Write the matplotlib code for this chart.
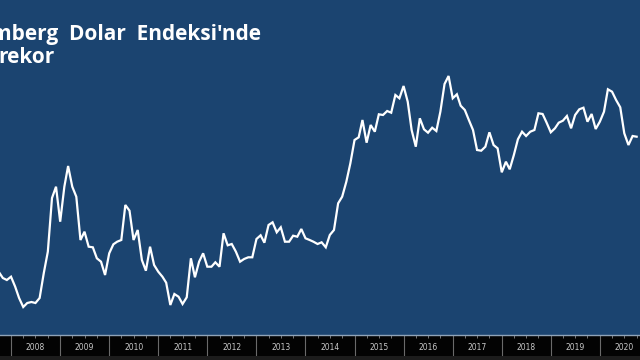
import matplotlib
matplotlib.use('Agg')
import matplotlib.pyplot as plt
import matplotlib.dates as mdates
import matplotlib.transforms as mtransforms
from matplotlib.patches import Rectangle
from datetime import datetime
import pandas as pd

# Bloomberg Dollar Spot Index, monthly, Oct 2007 - Oct 2020
start_month = '2007-10-01'
index_values = [
    1068.3, 1062, 1060, 1063.3, 1053.3, 1042, 1033, 1037, 1038, 1037,
    1042, 1067, 1088.3, 1142, 1153.3, 1118.3, 1153.3, 1174, 1153.3, 1143.3,
    1100, 1108.3, 1093.3, 1092.7, 1081.7, 1078.3, 1065, 1086.7, 1095.7, 1098.3,
    1100, 1135, 1129.3, 1100, 1110, 1080, 1069.3, 1093.3, 1075, 1068.3,
    1063.3, 1057.3, 1035, 1046, 1043.3, 1036, 1042.7, 1081.7, 1062.7, 1078.3,
    1086.7, 1073.3, 1073.3, 1077.7, 1073.3, 1106.7, 1094.7, 1096, 1088.3, 1078.3,
    1081, 1082.7, 1082.7, 1101, 1104.7, 1097.3, 1115, 1117.7, 1107.7, 1112.7,
    1098.3, 1098.3, 1104.3, 1103.3, 1111, 1101.7, 1100, 1098.3, 1096, 1097.7,
    1092.7, 1105, 1110, 1136.7, 1143.3, 1158.3, 1176.7, 1200, 1202.7, 1220,
    1197.3, 1215, 1208.3, 1225.7, 1225, 1229, 1227.3, 1245, 1241.7, 1254,
    1238.3, 1210, 1193.3, 1221.7, 1210.7, 1207.3, 1212.3, 1209, 1228.3, 1256,
    1264, 1241.7, 1245.7, 1234.3, 1230, 1220, 1210, 1190, 1189.3, 1193.3,
    1207.7, 1195, 1191.7, 1167.7, 1178.3, 1170.7, 1185, 1200.7, 1208.3, 1204,
    1208.3, 1210, 1226.7, 1226, 1217.3, 1207.7, 1211.7, 1217.3, 1219.3, 1224,
    1211.7, 1225, 1230.7, 1232.3, 1218.3, 1226, 1211, 1218.3, 1228.3, 1250.7,
    1248.3, 1240, 1232.7, 1206.7, 1195, 1204, 1203.3,
]
years = list(range(2008, 2021))
title_line1 = "Bloomberg  Dolar  Endeksi'nde"
title_line2 = "rekor"

dates = pd.date_range(start_month, periods=len(index_values), freq='MS')

bg_blue = '#1b4470'
fig = plt.figure(figsize=(6.4, 3.6), dpi=100, facecolor='#030303')
fig.patches.append(Rectangle((0, 0), 1, 4 / 360, transform=fig.transFigure,
                             facecolor='#1c1c1c', edgecolor='none', zorder=0))

ax = fig.add_axes([0, 25 / 360, 1, 335 / 360])
ax.set_facecolor(bg_blue)
ax.plot(dates, index_values, color='white', lw=1.6, solid_joinstyle='miter')

ax.set_xlim(datetime(2007, 10, 11), datetime(2020, 10, 26))
ax.set_ylim(1005, 1340)

for side in ['top', 'left', 'right']:
    ax.spines[side].set_visible(False)
ax.spines['bottom'].set_color('#8fa3b8')
ax.spines['bottom'].set_linewidth(1.0)

ax.xaxis.set_major_locator(mdates.YearLocator())
ax.xaxis.set_minor_locator(mdates.MonthLocator(bymonth=[4, 7, 10]))
ax.tick_params(axis='x', which='major', length=15, width=0.8, color='#6a6a6a',
               labelbottom=False)
ax.tick_params(axis='x', which='minor', length=2, width=0.6, color='#8a8a8a')
ax.set_yticks([])

trans = mtransforms.blended_transform_factory(ax.transData, ax.transAxes)
for yr in years:
    ax.text(mdates.date2num(datetime(yr, 7, 2)), -0.038, str(yr), transform=trans,
            ha='center', va='center', fontsize=5.5, color='#c8c8c8',
            family=['Liberation Sans Narrow', 'DejaVu Sans'], clip_on=False)

fig.text(261 / 640, 1 - 40 / 360, title_line1, ha='right', va='baseline',
         fontsize=15, fontweight='bold', color='white', family=['Open Sans', 'DejaVu Sans'])
fig.text(-2 / 640, 1 - 63 / 360, title_line2, ha='left', va='baseline',
         fontsize=15, fontweight='bold', color='white', family=['Open Sans', 'DejaVu Sans'])

fig.savefig('out.png', dpi=100, facecolor=fig.get_facecolor())
plt.close(fig)
